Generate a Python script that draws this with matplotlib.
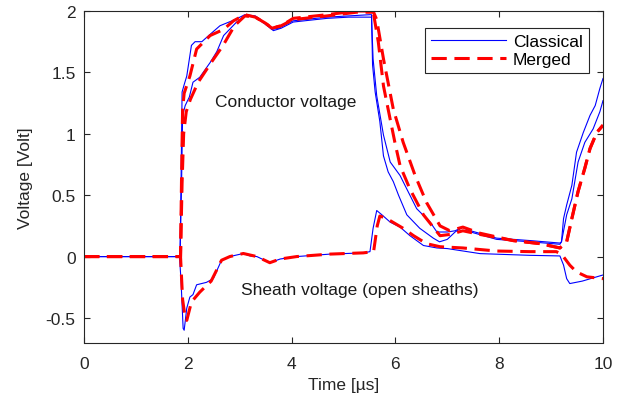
import matplotlib
matplotlib.use("Agg")
import matplotlib.pyplot as plt

plt.rcParams['font.family'] = ['Liberation Sans', 'DejaVu Sans']

# conductor voltages, classical model (two phases)
t_cond_a = [0, 1.85, 1.87, 1.89, 1.93, 1.98, 2.07, 2.14, 2.27, 2.43, 2.62, 2.91, 3.10, 3.30, 3.50,
            3.62, 3.75, 4.03, 4.68, 5.10, 5.51, 5.54, 5.56, 5.61, 5.70, 5.77, 5.86, 5.96, 6.06, 6.22,
            6.47, 6.73, 6.85, 7.00, 7.15, 7.30, 7.45, 7.95, 8.60, 9.17, 9.20, 9.24, 9.30, 9.40, 9.49,
            9.62, 9.75, 9.85, 9.94, 10.0]
v_cond_a = [0, 0, 0.60, 1.34, 1.40, 1.47, 1.72, 1.75, 1.75, 1.81, 1.88, 1.93, 1.97, 1.96, 1.90,
            1.85, 1.86, 1.92, 1.95, 1.96, 1.97, 1.97, 1.56, 1.34, 1.10, 0.82, 0.69, 0.61, 0.50, 0.34,
            0.23, 0.15, 0.12, 0.14, 0.20, 0.24, 0.20, 0.14, 0.12, 0.10, 0.12, 0.31, 0.42, 0.58, 0.85,
            1.01, 1.15, 1.23, 1.37, 1.45]

t_cond_b = [0, 1.85, 1.88, 1.90, 1.95, 2.03, 2.10, 2.23, 2.43, 2.56, 2.69, 2.94, 3.10, 3.30, 3.50,
            3.65, 3.80, 4.03, 4.68, 5.10, 5.51, 5.54, 5.57, 5.64, 5.77, 5.90, 6.09, 6.22, 6.41, 6.67,
            6.80, 7.00, 7.15, 7.30, 7.45, 7.95, 8.60, 9.17, 9.20, 9.30, 9.40, 9.52, 9.65, 9.81, 9.94,
            10.0]
v_cond_b = [0, 0, 0.60, 1.15, 1.23, 1.30, 1.42, 1.46, 1.58, 1.67, 1.80, 1.91, 1.96, 1.95, 1.89,
            1.84, 1.86, 1.91, 1.94, 1.95, 1.95, 1.95, 1.61, 1.31, 0.99, 0.77, 0.66, 0.55, 0.39, 0.28,
            0.20, 0.20, 0.21, 0.24, 0.21, 0.15, 0.13, 0.11, 0.12, 0.34, 0.47, 0.77, 0.93, 1.04, 1.18,
            1.27]

# sheath voltage, classical model
t_sheath = [0, 1.84, 1.87, 1.91, 1.93, 1.98, 2.04, 2.10, 2.17, 2.36, 2.49, 2.65, 2.81, 3.07, 3.20,
            3.33, 3.58, 3.78, 4.10, 4.74, 5.38, 5.51, 5.57, 5.64, 5.74, 5.90, 6.09, 6.28, 6.54, 6.80,
            7.00, 7.63, 8.59, 9.17, 9.24, 9.30, 9.36, 9.60, 10.0]
v_sheath = [0, 0, -0.20, -0.585, -0.60, -0.42, -0.33, -0.31, -0.23, -0.21, -0.18, -0.03, 0.0, 0.025,
            0.005, 0.0, -0.05, -0.02, 0.0, 0.02, 0.03, 0.04, 0.23, 0.375, 0.34, 0.28, 0.24, 0.17, 0.09,
            0.07, 0.065, 0.024, 0.01, 0.005, -0.07, -0.18, -0.22, -0.20, -0.15]

# merged model
t_m_cond_a = [0, 1.86, 1.88, 1.90, 1.93, 2.04, 2.17, 2.43, 2.69, 2.88, 3.10, 3.30, 3.50, 3.62, 3.80,
              4.03, 4.68, 5.25, 5.55, 5.57, 5.67, 5.77, 5.86, 5.99, 6.09, 6.28, 6.54, 6.86, 7.05, 7.30,
              7.63, 8.27, 8.79, 9.17, 9.30, 9.40, 9.52, 9.65, 9.75, 9.88, 10.0]
v_m_cond_a = [0, 0, 0.66, 1.20, 1.33, 1.47, 1.69, 1.80, 1.85, 1.92, 1.97, 1.95, 1.90, 1.86, 1.88,
              1.94, 1.97, 2.00, 2.00, 2.00, 1.75, 1.39, 1.20, 0.93, 0.74, 0.55, 0.34, 0.17, 0.18, 0.21,
              0.18, 0.13, 0.105, 0.07, 0.12, 0.31, 0.53, 0.72, 0.88, 1.01, 1.07]

t_m_cond_b = [0, 1.86, 1.89, 1.92, 1.97, 2.05, 2.20, 2.45, 2.68, 2.90, 3.10, 3.30, 3.50, 3.62, 3.80,
              4.03, 4.68, 5.25, 5.58, 5.64, 5.77, 5.96, 6.15, 6.38, 6.60, 6.86, 7.05, 7.30, 7.63, 8.27,
              8.79, 9.17, 9.30, 9.40, 9.52, 9.65, 9.75, 9.88, 10.0]
v_m_cond_b = [0, 0, 0.60, 1.00, 1.18, 1.28, 1.42, 1.58, 1.72, 1.88, 1.96, 1.95, 1.90, 1.86, 1.88,
              1.93, 1.96, 1.99, 1.99, 1.93, 1.61, 1.20, 0.93, 0.66, 0.44, 0.25, 0.21, 0.24, 0.19, 0.13,
              0.105, 0.07, 0.12, 0.31, 0.53, 0.72, 0.88, 1.01, 1.07]

t_m_sheath = [0, 1.86, 1.90, 1.95, 1.98, 2.07, 2.23, 2.45, 2.65, 2.81, 3.07, 3.33, 3.58, 3.78, 4.10,
              4.74, 5.38, 5.58, 5.65, 5.70, 5.83, 6.15, 6.35, 6.60, 6.86, 7.30, 7.95, 8.59, 9.10, 9.20,
              9.36, 9.49, 9.69, 10.0]
v_m_sheath = [0, 0, -0.35, -0.50, -0.52, -0.37, -0.29, -0.20, -0.03, 0.0, 0.025, 0.0, -0.05, -0.02,
              0.0, 0.02, 0.03, 0.04, 0.25, 0.33, 0.31, 0.23, 0.17, 0.105, 0.08, 0.07, 0.045, 0.04, 0.04,
              0.02, -0.07, -0.125, -0.165, -0.18]

fig = plt.figure(figsize=(6.26, 4.02), dpi=100)
ax = fig.add_axes([84 / 626, (402 - 343.5) / 402, (603 - 84) / 626, (343.5 - 12) / 402])

blue = dict(color='#0000ff', lw=0.8)
red = dict(color='#ff0000', lw=2.2, ls=(0, (5, 2.5)))

ax.plot(t_cond_a, v_cond_a, label='Classical', **blue)
ax.plot(t_cond_b, v_cond_b, **blue)
ax.plot(t_sheath, v_sheath, **blue)
ax.plot(t_m_cond_a, v_m_cond_a, label='Merged', **red)
ax.plot(t_m_cond_b, v_m_cond_b, **red)
ax.plot(t_m_sheath, v_m_sheath, **red)

ax.set_xlim(0, 10)
ax.set_ylim(-0.7, 2)
ax.set_xticks([0, 2, 4, 6, 8, 10])
ax.set_yticks([-0.5, 0, 0.5, 1, 1.5, 2])
ax.set_yticklabels(['-0.5', '0', '0.5', '1', '1.5', '2'])

dark = '#262626'
for s in ax.spines.values():
    s.set_color(dark)
    s.set_linewidth(0.8)
ax.tick_params(direction='in', top=True, right=True, length=4, width=0.8,
               colors=dark, labelsize=12.5)
ax.tick_params(axis='x', pad=10)
ax.tick_params(axis='y', pad=6)

ax.set_xlabel('Time [µs]', fontsize=12.5, color=dark, labelpad=4)
ax.set_ylabel('Voltage [Volt]', fontsize=12.5, color=dark, labelpad=9)

ax.text(3.89, 1.26, 'Conductor voltage', fontsize=12.5, color='#1a1a1a', ha='center', va='center')
ax.text(5.32, -0.27, 'Sheath voltage (open sheaths)', fontsize=12.5, color='#1a1a1a',
        ha='center', va='center')

leg = ax.legend(loc='upper right', bbox_to_anchor=(0.973, 0.9486), borderaxespad=0,
                fontsize=12.5, fancybox=False, framealpha=1, edgecolor=dark,
                handlelength=4.3, handletextpad=0.4, labelspacing=0.15, borderpad=0.35)
leg.get_frame().set_linewidth(0.8)

fig.savefig('out.png', dpi=100)
